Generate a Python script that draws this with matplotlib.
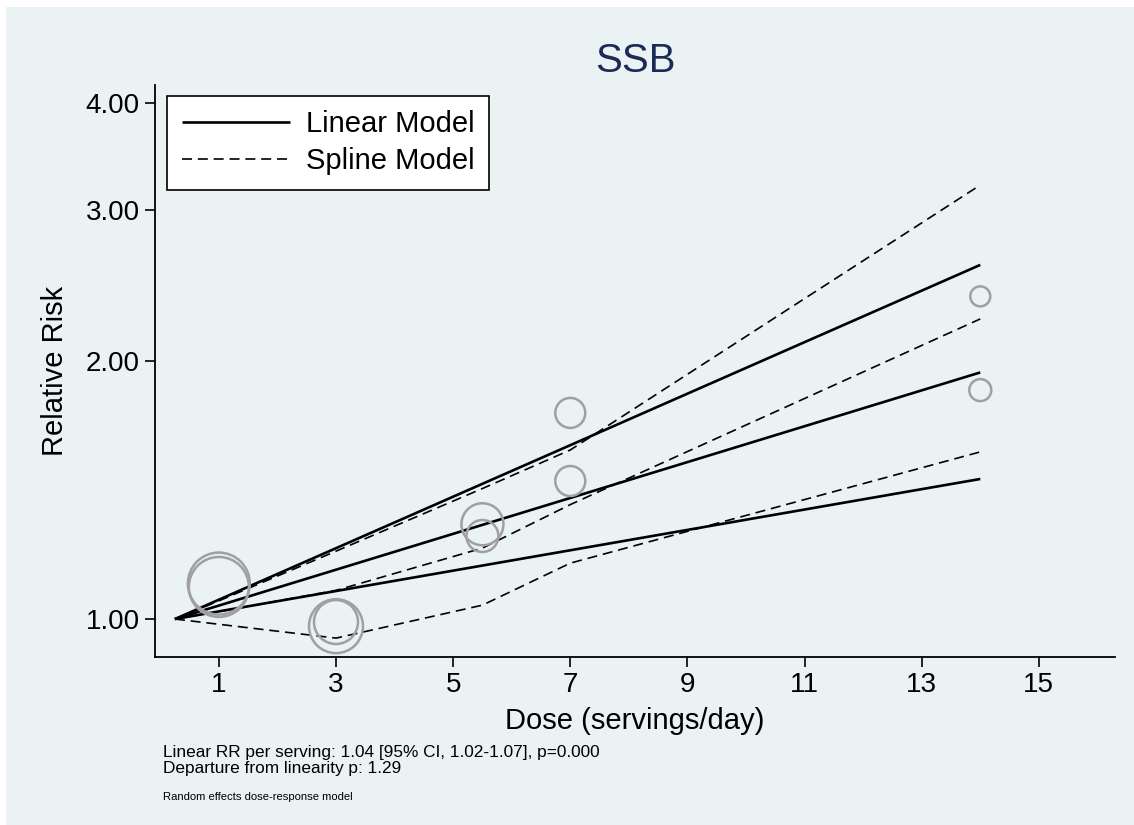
import matplotlib
matplotlib.use("Agg")
import matplotlib.pyplot as plt
from matplotlib.patches import Rectangle

plt.rcParams['font.family'] = ['Liberation Sans', 'DejaVu Sans']

# Linear model: RR and 95% CI at reference dose and max dose
lin_dose = [0.25, 14]
lin_rr = [1.00, 1.94]
lin_lo = [1.00, 1.457]
lin_hi = [1.00, 2.59]

# Spline model: RR and 95% CI
spl_dose = [0.25, 1, 3, 5.5, 7, 14]
spl_rr = [1.00, 1.02, 1.08, 1.21, 1.36, 2.24]
spl_lo = [1.00, 0.986, 0.95, 1.038, 1.162, 1.567]
spl_hi = [1.00, 1.05, 1.20, 1.42, 1.575, 3.21]

# Study-level estimates with relative weights
study_dose = [1, 1, 3, 3, 5.5, 5.5, 7, 7, 14, 14]
study_rr = [1.10, 1.09, 0.981, 0.992, 1.29, 1.25, 1.74, 1.449, 2.38, 1.85]
study_wt = [31, 30, 27, 22, 21, 16, 15, 15, 10, 11]

xticks = [1, 3, 5, 7, 9, 11, 13, 15]
yticks = [1, 2, 3, 4]
ytick_labels = ["1.00", "2.00", "3.00", "4.00"]

bg = "#EAF2F3"

fig = plt.figure(figsize=(11.34, 8.25), dpi=100)
fig.patch.set_facecolor(bg)
# thin white strip along top and left edge
fig.patches.append(Rectangle((0, 1 - 7/825), 1, 7/825, transform=fig.transFigure,
                             facecolor="white", edgecolor="none", zorder=-10))
fig.patches.append(Rectangle((0, 0), 6/1134, 1, transform=fig.transFigure,
                             facecolor="white", edgecolor="none", zorder=-10))

ax = fig.add_axes([155/1134, 1 - 657/825, 960/1134, 572/825])
ax.set_facecolor(bg)
ax.set_yscale("log")
ax.set_xlim(-0.09, 16.3)
ax.set_ylim(0.903, 4.20)

# spline model (dashed)
for i, ys in enumerate([spl_rr, spl_lo, spl_hi]):
    ax.plot(spl_dose, ys, color="black", lw=1.2, ls=(0, (6, 3.5)),
            label="Spline Model" if i == 0 else None, zorder=3)

# linear model (solid)
for i, ys in enumerate([lin_rr, lin_lo, lin_hi]):
    ax.plot(lin_dose, ys, color="black", lw=1.9, solid_capstyle="butt",
            label="Linear Model" if i == 0 else None, zorder=4)

# study points, marker size proportional to weight
sizes = [(2 * w * 0.72) ** 2 for w in study_wt]
ax.scatter(study_dose, study_rr, s=sizes, facecolors="none", edgecolors="#A0A0A0",
           linewidths=1.8, zorder=5)

ax.set_xticks(xticks)
ax.set_xticklabels([str(t) for t in xticks])
ax.set_yticks(yticks)
ax.set_yticklabels(ytick_labels)
ax.yaxis.set_minor_locator(matplotlib.ticker.NullLocator())
ax.tick_params(axis="both", labelsize=20, length=7, width=1.2, color="black", pad=4)

for side in ["top", "right"]:
    ax.spines[side].set_visible(False)
for side in ["left", "bottom"]:
    ax.spines[side].set_linewidth(1.3)

ax.set_xlabel("Dose (servings/day)", fontsize=21, labelpad=6)
ax.set_ylabel("Relative Risk", fontsize=21, labelpad=12)
ax.set_title("SSB", fontsize=29, color="#1C2B55", pad=9)

handles, labels = ax.get_legend_handles_labels()
order = [labels.index("Linear Model"), labels.index("Spline Model")]
leg = ax.legend([handles[k] for k in order], [labels[k] for k in order],
                loc="upper left", bbox_to_anchor=(0.0125, 0.981), fontsize=21,
                handlelength=3.7, handletextpad=0.55, borderpad=0.5,
                borderaxespad=0, labelspacing=0.3, fancybox=False, framealpha=1,
                edgecolor="black")
leg.get_frame().set_linewidth(1.2)

fig.text(163/1134, 1 - 752/825, "Linear RR per serving: 1.04 [95% CI, 1.02-1.07], p=0.000",
         fontsize=12.4, va="center", ha="left")
fig.text(163/1134, 1 - 768/825, "Departure from linearity p: 1.29",
         fontsize=12.4, va="center", ha="left")
fig.text(163/1134, 1 - 797/825, "Random effects dose-response model",
         fontsize=8.1, va="center", ha="left")

fig.savefig("out.png", dpi=100, facecolor=fig.get_facecolor())
